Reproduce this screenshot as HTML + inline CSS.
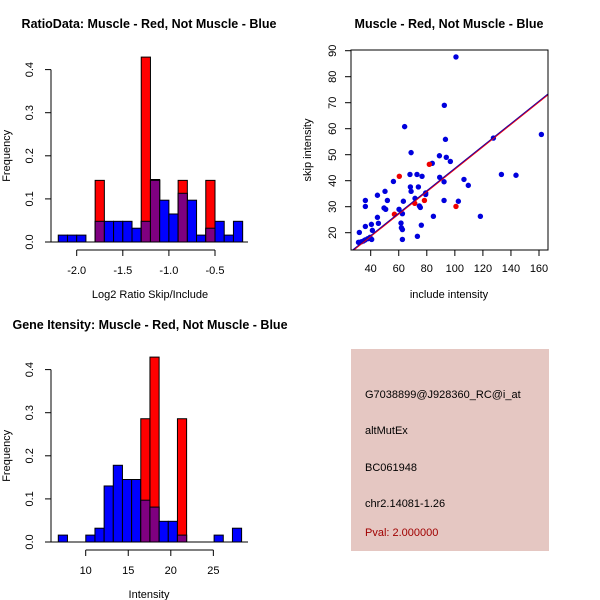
<!DOCTYPE html>
<html><head><meta charset="utf-8"><style>
body{margin:0;background:#fff}
svg{display:block;font-family:"Liberation Sans",sans-serif}
</style></head><body>
<svg id="s" width="600" height="600" xmlns="http://www.w3.org/2000/svg">
<g id="p1"></g>
<g id="p2"></g>
<g id="p3"></g>
<g>
<rect x="351" y="349" width="198" height="202" fill="#e5c7c2"/>
<g font-size="11" fill="#000">
<text x="365" y="398">G7038899@J928360_RC@i_at</text>
<text x="365" y="434">altMutEx</text>
<text x="365" y="471">BC061948</text>
<text x="365" y="507">chr2.14081-1.26</text>
<text x="365" y="536" fill="#a00000">Pval: 2.000000</text>
</g></g>
</svg>
<script>
// ---- Ratio histogram data ----
const ratioBreakStart = -2.2;
const ratioBinWidth = 0.1;
const ratioBlue = [0.016,0.016,0.016,0,0.048,0.048,0.048,0.048,0.032,0.048,0.145,0.097,0.065,0.113,0.097,0.016,0.032,0.048,0.016,0.048];
const ratioRed  = [0,0,0,0,0.143,0,0,0,0,0.429,0.143,0,0,0.143,0,0,0.143,0,0,0];
const ratioXTicks = [-2.0,-1.5,-1.0,-0.5];
const ratioXTickLabels = ["-2.0","-1.5","-1.0","-0.5"];
const freqTicks = [0,0.1,0.2,0.3,0.4];
const freqTickLabels = ["0.0","0.1","0.2","0.3","0.4"];
// ---- Intensity histogram data ----
const intBreakStart = 6.78;
const intBinWidth = 1.077;
const intBlue = [0.016,0,0,0.016,0.032,0.13,0.178,0.145,0.145,0.097,0.081,0.048,0.048,0.016,0,0,0,0.016,0,0.032];
const intRed  = [0,0,0,0,0,0,0,0,0,0.286,0.429,0,0,0.286,0,0,0,0,0,0];
const intXTicks = [10,15,20,25];
const intXTickLabels = ["10","15","20","25"];
// ---- Scatter data ----
const blueX = [31.3,33.2,34.8,36,37.9,39.5,40.7,31.9,36.2,36.2,36.2,40.5,41.2,44.8,44.8,45.5,50.2,49.5,50.7,51.9,56.2,60.2,61.6,61.9,62.6,62.6,63.3,62.6,64.2,68.8,68,68.3,68.8,71.6,73,74,74.7,75.4,76.6,76.1,73.3,79.2,79.2,83.9,84.7,89,89.2,92.3,92.5,93.3,93.9,96.8,92.3,100.8,102.5,106.5,109.6,118.2,127.5,133.2,143.6,161.7];
const blueY = [16.3,16.5,16.8,17.2,17.7,18.2,17.4,20.1,32.4,30.1,22.4,23.2,20.9,34.4,25.9,23.6,35.9,29.5,29,32.4,39.7,29,23.7,21.9,21.2,27.3,32.1,17.4,60.8,50.8,42.4,37.6,35.9,33.2,42.4,37.6,30.3,29.7,41.7,22.9,18.6,35.3,34.7,46.7,26.3,49.6,41.3,39.6,69,55.9,49,47.4,32.4,87.6,32.1,40.5,38.2,26.3,56.4,42.4,42.1,57.8];
const redX = [56.9,60.4,71.4,78.3,81.8,100.8];
const redY = [27.1,41.7,31.3,32.4,46.3,30.1];
const fitIntercept = 1.67, fitSlope = 0.431;
const scXTicks = [40,60,80,100,120,140,160];
const scYTicks = [20,30,40,50,60,70,80,90];

const NS="http://www.w3.org/2000/svg";
function mk(parent,tag,attrs,text){const e=document.createElementNS(NS,tag);for(const k in attrs)e.setAttribute(k,attrs[k]);if(text!==undefined)e.textContent=text;parent.appendChild(e);return e;}

function histogram(g,cfg){
  const sx=v=>cfg.x0px+(v-cfg.x0)*cfg.kx, sy=v=>cfg.y0px-v*cfg.ky;
  const n=cfg.blue.length;
  for(let i=0;i<n;i++){
    const a=sx(cfg.start+i*cfg.w), b=sx(cfg.start+(i+1)*cfg.w);
    const bl=cfg.blue[i], rd=cfg.red[i];
    if(bl>0){const r=mk(g,'rect',{x:a,y:sy(bl),width:b-a,height:sy(0)-sy(bl),fill:'#0000ff',stroke:'#000','stroke-width':1});
      
      }
    if(rd>0){const r=mk(g,'rect',{x:a,y:sy(rd),width:b-a,height:sy(0)-sy(rd),fill:'#ff0000',stroke:'#000','stroke-width':1});
      
      }
    const m=Math.min(bl,rd);
    if(m>0){const r=mk(g,'rect',{x:a,y:sy(m),width:b-a,height:sy(0)-sy(m),fill:'#7f0080',stroke:'#000','stroke-width':1});
      
      }
  }
  const base=mk(g,'line',{x1:48,x2:248,y1:sy(0),y2:sy(0),stroke:'#000'});
  
  
  const xa=mk(g,'g',{});
  
  
  const ay=sy(0)+8;
  mk(xa,'line',{x1:sx(cfg.xt[0]),x2:sx(cfg.xt[cfg.xt.length-1]),y1:ay,y2:ay,stroke:'#000'});
  cfg.xt.forEach((t,i)=>{mk(xa,'line',{x1:sx(t),x2:sx(t),y1:ay,y2:ay+6,stroke:'#000'});
    mk(xa,'text',{x:sx(t),y:ay+24,'font-size':11,'text-anchor':'middle'},cfg.xl[i]);});
  const xt=mk(g,'text',{x:cfg.xtitleX,y:sy(0)+56,'font-size':11,'text-anchor':'middle'},cfg.xtitle);
  
  
  const ya=mk(g,'g',{});
  
  
  mk(ya,'line',{x1:51,x2:51,y1:sy(0),y2:sy(0.4),stroke:'#000'});
  freqTicks.forEach((t,i)=>{mk(ya,'line',{x1:45,x2:51,y1:sy(t),y2:sy(t),stroke:'#000'});
    mk(ya,'text',{x:0,y:0,'font-size':11,'text-anchor':'middle',transform:`translate(33,${sy(t)}) rotate(-90)`},freqTickLabels[i]);});
  const yt=mk(g,'text',{x:0,y:0,'font-size':11,'text-anchor':'middle',transform:`translate(10,${sy(0.2)}) rotate(-90)`},'Frequency');
  
  
  const tt=mk(g,'text',{x:cfg.titleX,y:cfg.titleY,'font-size':12.5,'font-weight':'bold','text-anchor':'middle'},cfg.title);
  
  
}

histogram(document.getElementById('p1'),{x0:-2.0,x0px:76.7,kx:92.2,y0px:242,ky:431,start:ratioBreakStart,w:ratioBinWidth,blue:ratioBlue,red:ratioRed,xt:ratioXTicks,xl:ratioXTickLabels,xtitle:'Log2 Ratio Skip/Include',xtitleX:150,title:'RatioData: Muscle - Red, Not Muscle - Blue',titleX:149,titleY:28});
histogram(document.getElementById('p3'),{x0:10,x0px:85.7,kx:8.51,y0px:542,ky:431,start:intBreakStart,w:intBinWidth,blue:intBlue,red:intRed,xt:intXTicks,xl:intXTickLabels,xtitle:'Intensity',xtitleX:149,title:'Gene Itensity: Muscle - Red, Not Muscle - Blue',titleX:150,titleY:329});

(function(){
  const g=document.getElementById('p2');
  const sx=v=>370.7+(v-40)*1.4025, sy=v=>232.7-(v-20)*2.6;
  const clip=mk(g,'clipPath',{id:'sc'});mk(clip,'rect',{x:351,y:50,width:197,height:200});
  const pts=mk(g,'g',{});
  
  
  blueX.forEach((x,i)=>{const c=mk(pts,'circle',{cx:sx(x),cy:sy(blueY[i]),r:2.7,fill:'#0000dd'});
    
    });
  redX.forEach((x,i)=>{const c=mk(pts,'circle',{cx:sx(x),cy:sy(redY[i]),r:2.7,fill:'#ee0000'});
    
    });
  const x1=20,x2=180;
  const lr=mk(g,'line',{x1:sx(x1),y1:sy(fitIntercept+fitSlope*x1)+1,x2:sx(x2),y2:sy(fitIntercept+fitSlope*x2)+1,stroke:'#ff0000','clip-path':'url(#sc)'});
  
  
  const lb=mk(g,'line',{x1:sx(x1),y1:sy(fitIntercept+fitSlope*x1),x2:sx(x2),y2:sy(fitIntercept+fitSlope*x2),stroke:'#2000a0','clip-path':'url(#sc)'});
  
  
  const box=mk(g,'rect',{x:351,y:50,width:197,height:200,fill:'none',stroke:'#000'});
  
  
  const xa=mk(g,'g',{});
  
  
  scXTicks.forEach(t=>{mk(xa,'line',{x1:sx(t),x2:sx(t),y1:250,y2:256,stroke:'#000'});
    mk(xa,'text',{x:sx(t),y:272,'font-size':11,'text-anchor':'middle'},String(t));});
  const ya=mk(g,'g',{});
  
  
  scYTicks.forEach(t=>{mk(ya,'line',{x1:345,x2:351,y1:sy(t),y2:sy(t),stroke:'#000'});
    mk(ya,'text',{x:0,y:0,'font-size':11,'text-anchor':'middle',transform:`translate(336,${sy(t)}) rotate(-90)`},String(t));});
  const xt=mk(g,'text',{x:449,y:298,'font-size':11,'text-anchor':'middle'},'include intensity');
  
  
  const yt=mk(g,'text',{x:0,y:0,'font-size':11,'text-anchor':'middle',transform:'translate(311,150) rotate(-90)'},'skip intensity');
  
  
  const tt=mk(g,'text',{x:449,y:28,'font-size':12.5,'font-weight':'bold','text-anchor':'middle'},'Muscle - Red, Not Muscle - Blue');
  
  
})();
</script>
</body></html>
